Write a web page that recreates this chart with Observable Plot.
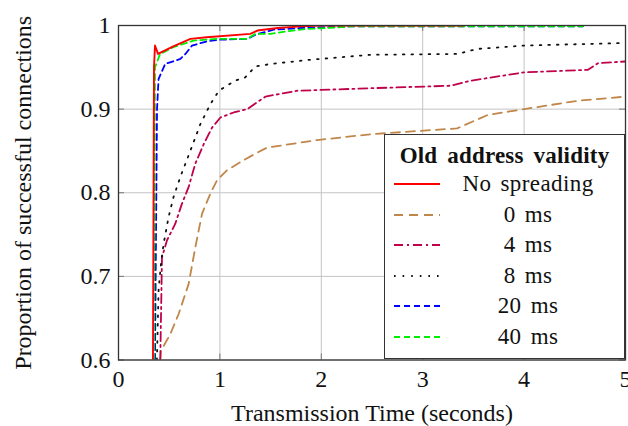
<!DOCTYPE html>
<html>
<head>
<meta charset="utf-8">
<script src="https://cdn.jsdelivr.net/npm/d3@7"></script>
<script src="https://cdn.jsdelivr.net/npm/@observablehq/plot@0.6"></script>
<style>
  html, body { margin: 0; padding: 0; background: white; }
  #wrap { position: relative; width: 628px; height: 426px; font-family: "Liberation Serif", serif; }
  #legend { position: absolute; left: 384px; top: 134px; width: 239px; height: 223px; border: 1.3px solid #333; background: white; box-sizing: content-box; color: #111; }
  #legend .title { text-align: center; font-weight: bold; font-size: 23px; line-height: 26px; margin-top: 8px; word-spacing: 4px; letter-spacing: 0.2px; }
  #legend .row { display: flex; align-items: center; height: 30.5px; }
  #legend .row svg { margin-left: 9px; flex: none; }
  #legend .row span { display: block; width: 166px; margin-left: 5px; text-align: center; font-size: 23px; word-spacing: 3px; letter-spacing: 0.4px; }
</style>
</head>
<body>
<div id="wrap"></div>
<script>
// ---- data ----
const seriesNames = ["No spreading", "0 ms", "4 ms", "8 ms", "20 ms", "40 ms"];
const seriesColors = ["#ff0000", "#c0864a", "#c0004a", "#111111", "#0000ff", "#00ee00"];
const seriesDash = ["none", "9,6", "9,4,2,4", "1.6,7", "6,4", "6,4"];

const xTicks = [0, 1, 2, 3, 4, 5];
const yTicks = [0.6, 0.7, 0.8, 0.9, 1.0];

const noSpreadX = [0.34, 0.35, 0.36, 0.39, 0.54, 0.71, 0.87, 1.30, 1.37, 1.57, 1.80, 2.0, 3.4];
const noSpreadY = [0.60, 0.95, 0.976, 0.966, 0.975, 0.984, 0.986, 0.990, 0.994, 0.997, 0.999, 1.0, 1.0];

const ms0X = [0.412, 0.419, 0.511, 0.593, 0.692, 0.758, 0.824, 0.906, 0.972, 1.071, 1.235, 1.368, 1.466, 1.96, 2.49, 3.34, 3.64, 4.0, 4.53, 5.0];
const ms0Y = [0.60, 0.611, 0.631, 0.655, 0.691, 0.735, 0.775, 0.799, 0.815, 0.827, 0.839, 0.848, 0.854, 0.863, 0.870, 0.877, 0.893, 0.900, 0.910, 0.915];

const ms4X = [0.412, 0.429, 0.478, 0.56, 0.626, 0.692, 0.758, 0.84, 0.923, 1.005, 1.136, 1.269, 1.45, 1.763, 2.49, 3.28, 3.475, 4.0, 4.63, 4.73, 5.0];
const ms4Y = [0.60, 0.723, 0.743, 0.763, 0.787, 0.807, 0.835, 0.858, 0.878, 0.890, 0.896, 0.900, 0.915, 0.922, 0.925, 0.928, 0.934, 0.944, 0.947, 0.955, 0.957];

const ms8X = [0.379, 0.395, 0.419, 0.445, 0.494, 0.543, 0.61, 0.708, 0.807, 0.906, 0.99, 1.15, 1.25, 1.35, 1.50, 1.89, 2.49, 3.34, 3.54, 4.0, 4.97];
const ms8Y = [0.60, 0.683, 0.715, 0.739, 0.771, 0.795, 0.819, 0.850, 0.882, 0.906, 0.922, 0.934, 0.938, 0.951, 0.954, 0.959, 0.965, 0.966, 0.972, 0.976, 0.979];

const ms20X = [0.36, 0.38, 0.395, 0.46, 0.61, 0.66, 0.725, 0.87, 1.0, 1.27, 1.35, 1.53, 1.80, 2.3, 4.58];
const ms20Y = [0.60, 0.90, 0.936, 0.954, 0.960, 0.966, 0.976, 0.981, 0.983, 0.984, 0.989, 0.995, 0.997, 0.999, 0.999];

const ms40X = [0.35, 0.36, 0.41, 0.54, 0.74, 0.97, 1.27, 1.35, 1.50, 1.66, 1.86, 2.06, 2.3, 4.58];
const ms40Y = [0.60, 0.95, 0.966, 0.974, 0.982, 0.984, 0.984, 0.990, 0.990, 0.993, 0.996, 0.997, 0.999, 0.999];

const seriesX = [noSpreadX, ms0X, ms4X, ms8X, ms20X, ms40X];
const seriesY = [noSpreadY, ms0Y, ms4Y, ms8Y, ms20Y, ms40Y];

// ---- layout ----
const W = 628, H = 426;
const mL = 118, mR = 3, mT = 25, mB = 66.5;
const frameW = W - mL - mR, frameH = H - mT - mB;
const tickLen = 6;

const lineMarks = seriesNames.map((name, i) => {
  const pts = seriesX[i].map((x, j) => ({x, y: seriesY[i][j]}));
  return Plot.line(pts, {
    x: "x", y: "y",
    stroke: seriesColors[i],
    strokeWidth: i === 0 ? 1.9 : 1.8,
    strokeDasharray: seriesDash[i] === "none" ? null : seriesDash[i],
    strokeLinejoin: "round",
    clip: true
  });
});
const ordered = [lineMarks[1], lineMarks[2], lineMarks[3], lineMarks[4], lineMarks[5], lineMarks[0]];

const chart = Plot.plot({
  width: W, height: H,
  marginLeft: mL, marginRight: mR, marginTop: mT, marginBottom: mB,
  x: {domain: [0, 5]},
  y: {domain: [0.6, 1]},
  style: {fontFamily: "Liberation Serif, serif", fontSize: "24px", color: "#111", background: "white", overflow: "visible"},
  marks: [
    Plot.gridX(xTicks, {stroke: "#c4c4c4", strokeOpacity: 1, strokeWidth: 1}),
    Plot.gridY(yTicks, {stroke: "#c4c4c4", strokeOpacity: 1, strokeWidth: 1}),
    Plot.tickX(xTicks, {x: d => d, stroke: "#777", insetTop: frameH - tickLen}),
    Plot.tickX(xTicks, {x: d => d, stroke: "#777", insetBottom: frameH - tickLen}),
    Plot.tickY(yTicks, {y: d => d, stroke: "#777", insetRight: frameW - tickLen}),
    Plot.tickY(yTicks, {y: d => d, stroke: "#777", insetLeft: frameW - tickLen}),
    ...ordered,
    Plot.frame({stroke: "#333", strokeWidth: 1.3}),
    Plot.text(xTicks, {x: d => d, frameAnchor: "bottom", dy: 19, text: d => String(d), fontSize: 24, lineAnchor: "middle"}),
    Plot.text(yTicks, {y: d => d, frameAnchor: "left", dx: -8, text: d => d === 1 ? "1" : d.toFixed(1), fontSize: 24, textAnchor: "end", lineAnchor: "middle"}),
    Plot.axisX({ticks: [], tickSize: 0, fontSize: 24,
      label: "Transmission Time (seconds)", labelAnchor: "center", labelArrow: "none", labelOffset: 61}),
    Plot.axisY({ticks: [], tickSize: 0, fontSize: 24,
      label: "Proportion of successful connections", labelAnchor: "center", labelArrow: "none", labelOffset: 105})
  ]
});

const wrap = document.getElementById("wrap");
wrap.appendChild(chart);

// ---- legend (HTML overlay) ----
const legend = document.createElement("div");
legend.id = "legend";
const title = document.createElement("div");
title.className = "title";
title.textContent = "Old address validity";
legend.appendChild(title);
seriesNames.forEach((name, i) => {
  const row = document.createElement("div");
  row.className = "row";
  const svg = d3.create("svg").attr("width", 46).attr("height", 10);
  svg.append("line").attr("x1", 0).attr("x2", 46).attr("y1", 5).attr("y2", 5)
    .attr("stroke", seriesColors[i]).attr("stroke-width", 1.8)
    .attr("stroke-dasharray", seriesDash[i] === "none" ? null : seriesDash[i]);
  row.appendChild(svg.node());
  const span = document.createElement("span");
  span.textContent = name;
  row.appendChild(span);
  legend.appendChild(row);
});
wrap.appendChild(legend);
</script>
</body>
</html>
